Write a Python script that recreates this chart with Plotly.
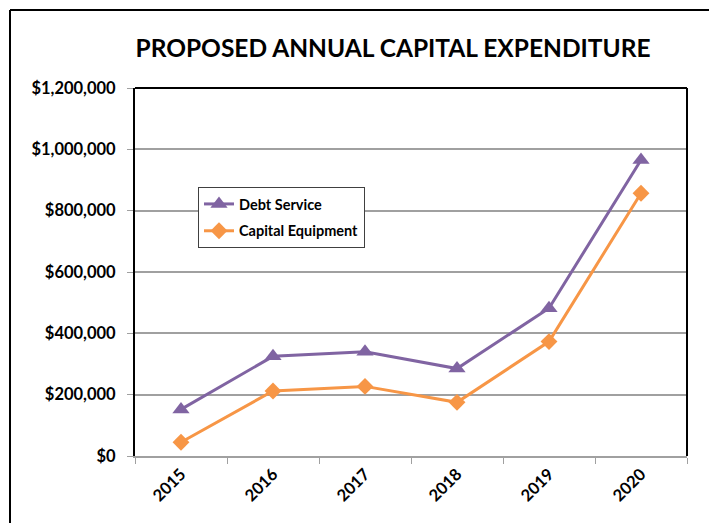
import plotly.graph_objects as go

years = ["2015", "2016", "2017", "2018", "2019", "2020"]
debt_service = [152000, 325000, 340000, 285000, 482000, 965000]
capital_equipment = [45000, 212000, 227000, 175000, 373000, 857000]

W, H = 709, 523
L, R, T, B = 135, 22, 88, 67
PW, PH = W - L - R, H - T - B

FONT = "Lato"
PURPLE = "#8064A2"
ORANGE = "#F79646"


def px_x(px):
    return (px - L) / PW


def px_y(py):
    return (H - B - py) / PH


fig = go.Figure()
fig.add_trace(go.Scatter(
    x=years, y=debt_service, name="Debt Service", mode="lines+markers",
    line=dict(color=PURPLE, width=3),
    marker=dict(symbol="triangle-up", size=15, color=PURPLE),
    legendgroup="a",
))
fig.add_trace(go.Scatter(
    x=years, y=capital_equipment, name="Capital Equipment", mode="lines+markers",
    line=dict(color=ORANGE, width=3),
    marker=dict(symbol="diamond", size=13, color=ORANGE),
    legendgroup="b",
))

shapes = [
    # plot frame: top and right edges
    dict(type="line", xref="paper", yref="paper", x0=0, x1=1, y0=1, y1=1,
         line=dict(color="black", width=2)),
    dict(type="line", xref="paper", yref="paper", x0=1, x1=1, y0=0, y1=1,
         line=dict(color="black", width=2)),
    # outer page frame
    dict(type="line", xref="paper", yref="paper", x0=px_x(10), x1=px_x(760),
         y0=px_y(10), y1=px_y(10), line=dict(color="black", width=2)),
    dict(type="line", xref="paper", yref="paper", x0=px_x(10), x1=px_x(10),
         y0=px_y(10), y1=px_y(560), line=dict(color="black", width=2)),
]

fig.update_layout(
    width=W, height=H,
    margin=dict(l=L, r=R, t=T, b=B),
    paper_bgcolor="white", plot_bgcolor="white",
    font=dict(family=FONT, color="black"),
    title=dict(
        text="<b>PROPOSED ANNUAL CAPITAL EXPENDITURE</b>",
        x=px_x(393), xref="paper", xanchor="center",
        y=1 - 48 / H, yref="container", yanchor="middle",
        font=dict(family=FONT, size=24.5, color="black"),
    ),
    legend=dict(
        x=px_x(198), y=px_y(187), xanchor="left", yanchor="top",
        bgcolor="white", bordercolor="#404040", borderwidth=1,
        font=dict(family=FONT, size=14.5, color="black", weight="bold"),
        tracegroupgap=5,
    ),
    shapes=shapes,
)

fig.update_xaxes(
    type="category", range=[-0.5, 5.5], tickson="boundaries",
    ticks="outside", ticklen=6, tickcolor="#A0A0A0",
    showline=True, linecolor="#A0A0A0", linewidth=2,
    showgrid=False, tickangle=-45,
    tickfont=dict(family=FONT, size=16.5, color="black", weight="bold"),
)
fig.update_yaxes(
    range=[0, 1200000], dtick=200000, tickformat="$,.0f",
    ticks="outside", ticklen=6, tickcolor="#A0A0A0",
    showline=True, linecolor="black", linewidth=2,
    showgrid=True, gridcolor="#A0A0A0", gridwidth=1.5,
    zeroline=False, ticklabelstandoff=8,
    tickfont=dict(family=FONT, size=16.5, color="black", weight="bold"),
)

fig.write_html("out.html")
